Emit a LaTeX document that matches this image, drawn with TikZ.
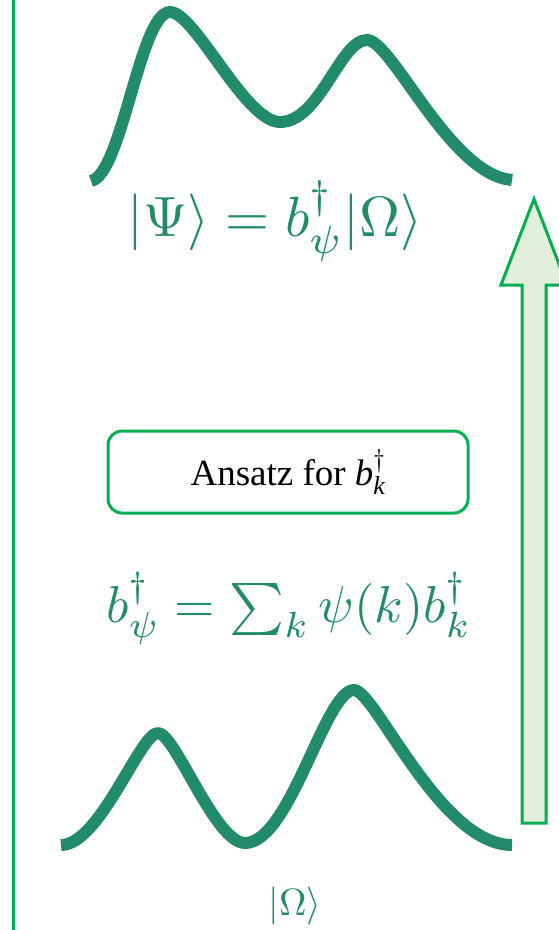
\RequirePackage{fix-cm}
\documentclass[tikz,border=0pt]{standalone}
\usepackage{amsmath}
\usepackage{fontspec}
\setmainfont{Liberation Serif}
\usetikzlibrary{positioning}
\definecolor{wavegreen}{RGB}{34,139,107}
\definecolor{linegreen}{RGB}{0,176,80}
\definecolor{arrowfill}{RGB}{226,239,218}
\tikzset{wave/.style={draw=wavegreen,line width=12pt,line join=round},
  eqn/.style={text=wavegreen,scale=5.6,inner sep=0pt,anchor=base},
  ansatzbox/.style={draw=linegreen,line width=3pt,rounded corners=14pt,minimum width=360pt,minimum height=82pt,font=\fontsize{37}{44}\selectfont},
  uparrow/.style={draw=linegreen,fill=arrowfill,line width=3pt,line join=miter}}

\begin{document}
\begin{tikzpicture}[x=1pt,y=-1pt]
\useasboundingbox (0,0) rectangle (559,930);
\draw[linegreen,line width=3pt] (13,-5)--(13,935);
% excited state
\draw[wave] (91,181) .. controls (122,175) and (140,12) .. (170,12) .. controls (195,12) and (245,122) .. (280,122) .. controls (320,122) and (340,40) .. (367,40) .. controls (392,40) and (450,175) .. (512,180);
\node[eqn,scale=5.68/5.6] (psi) at (275,236) {$|\Psi\rangle = b_\psi^\dagger|\Omega\rangle$};
% ansatz
\node[ansatzbox] (ansatz) at (288,472) {Ansatz for $\textit{b}_{\textit{k}}^\dagger$};
\node[eqn,scale=5.2/5.6] (bpsi) at (289,622) {$b_\psi^\dagger = \sum_k \psi(k) b_k^\dagger$};
% ground state
\draw[wave] (61,845) .. controls (100,845) and (140,733) .. (158,733) .. controls (175,733) and (215,843) .. (245,843) .. controls (290,843) and (325,690) .. (354,690) .. controls (375,690) and (440,845) .. (512,845);
\node[eqn,scale=3.8/5.6] (omega) at (295,915) {$|\Omega\rangle$};
% arrow
\draw[uparrow] (522,823)--(522,285)--(501,285)--(534,199)--(567,285)--(546,285)--(546,823)--cycle;
\end{tikzpicture}
\end{document}
